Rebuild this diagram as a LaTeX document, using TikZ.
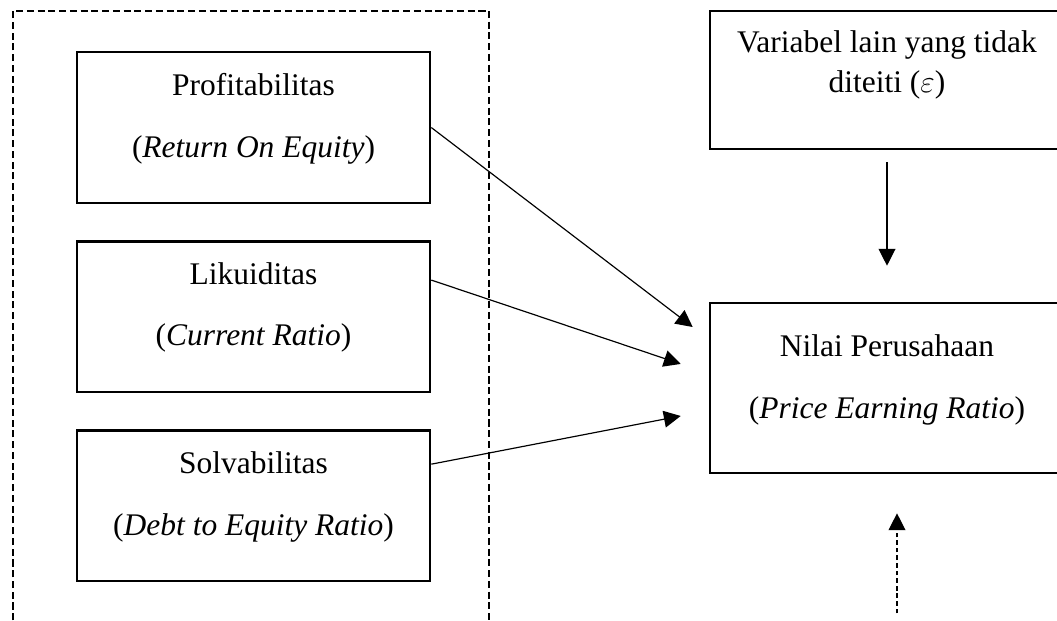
\documentclass[tikz,border=0pt]{standalone}
\usepackage{fontspec}
\setmainfont{Liberation Serif}
\usetikzlibrary{arrows.meta,positioning}

\begin{document}
\begin{tikzpicture}[node distance=2.533cm, >={Triangle[length=6.4pt,width=6.4pt]}, block/.style={rectangle, draw, line width=1pt, minimum width=4.73cm, minimum height=2.02cm, align=center, font=\fontsize{12}{23.6}\selectfont, text depth=9.5pt}, link/.style={->, line width=0.45pt}]
  {
  \clip (0,0) rectangle (14.164,-8.321);
  \draw[line width=0.85pt, dash pattern=on 2.7pt off 1.4pt] (0.17,-8.6) |- (6.553,-0.143) -- (6.553,-8.6);

  \node[block] (prof) at (3.397,-1.709) {Profitabilitas\\(\textit{Return On Equity})};
  \node[block, below of=prof] (likuid) {Likuiditas\\(\textit{Current Ratio})};
  \node[block, below of=likuid] (solv) {Solvabilitas\\(\textit{Debt to Equity Ratio})};
  \node[block, minimum width=4.744cm, minimum height=1.849cm, font=\fontsize{12}{15}\selectfont, text depth=14pt] (var) at (11.886,-1.072) {Variabel lain yang tidak\\diteiti ($\varepsilon$)};
  \node[block, below of=var, node distance=4.127cm, minimum width=4.744cm, minimum height=2.278cm, text depth=9pt] (nilai) {Nilai Perusahaan\\(\textit{Price Earning Ratio})};
  \coordinate (src) at ([xshift=0.134cm, yshift=-1.863cm]nilai.south);

  \draw[link] ([yshift=-0.161cm]var.south) -- ([yshift=0.482cm]nilai.north);
  \draw[link] (prof.east) -- ([xshift=-0.214cm, yshift=0.817cm]nilai.west);
  \draw[link] ([yshift=0.489cm]likuid.east) -- ([xshift=-0.375cm, yshift=0.322cm]nilai.west);
  \draw[link] ([yshift=0.555cm]solv.east) -- ([xshift=-0.375cm, yshift=-0.375cm]nilai.west);
  \draw[link, dash pattern=on 1.8pt off 1.1pt] (src) -- ([xshift=0.134cm, yshift=-0.523cm]nilai.south);
  }
\end{tikzpicture}
\end{document}
